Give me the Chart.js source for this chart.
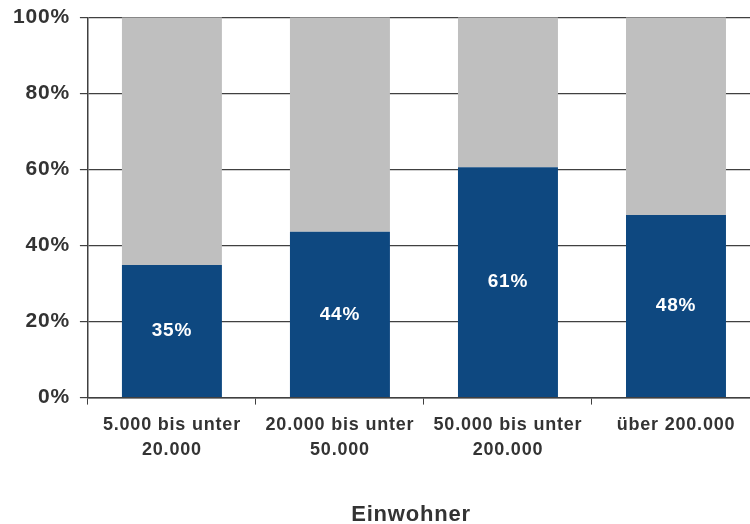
<!DOCTYPE html>
<html>
<head>
<meta charset="utf-8">
<script src="https://cdn.jsdelivr.net/npm/chart.js@4"></script>
<style>
    html, body { margin: 0; padding: 0; background: #fff; overflow: hidden; }
    #wrap { width: 762px; height: 524px; }
</style>
</head>
<body>
<div id="wrap"><canvas id="chart"></canvas></div>
<script>
// Chart data
const categories = [
    ['5.000 bis unter', '20.000'],
    ['20.000 bis unter', '50.000'],
    ['50.000 bis unter', '200.000'],
    ['über 200.000']
];
const shareValues = [34.9, 43.6, 60.6, 48.0];
const restValues = [65.1, 56.4, 39.4, 52.0];
const yTicks = [0, 20, 40, 60, 80, 100];
const axisTitle = 'Einwohner';

const textColor = '#333333';
const lineColor = '#404040';
const fontFamily = '"Liberation Sans", Arial, sans-serif';

// Slightly wider text like the original
const spacing = {
    id: 'spacing',
    beforeUpdate(chart) { chart.ctx.letterSpacing = '0.8px'; },
    beforeDraw(chart) { chart.ctx.letterSpacing = '0.8px'; }
};

// Labels inside the blue bars + axis title
const barLabels = {
    id: 'barLabels',
    afterDatasetsDraw(chart) {
        const ctx = chart.ctx;
        const meta = chart.getDatasetMeta(0);
        ctx.save();
        ctx.fillStyle = '#ffffff';
        ctx.font = 'bold 19px ' + fontFamily;
        ctx.textAlign = 'center';
        ctx.textBaseline = 'middle';
        meta.data.forEach((bar, i) => {
            const y = (bar.y + bar.base) / 2;
            ctx.fillText(Math.round(shareValues[i]) + '%', bar.x, y);
        });
        ctx.restore();
    },
    afterDraw(chart) {
        const ctx = chart.ctx;
        ctx.save();
        ctx.fillStyle = textColor;
        ctx.font = 'bold 22px ' + fontFamily;
        ctx.textAlign = 'center';
        ctx.textBaseline = 'alphabetic';
        ctx.fillText(axisTitle, 411, 521);
        ctx.restore();
    }
};

const chart = new Chart(document.getElementById('chart'), {
    type: 'bar',
    data: {
        labels: categories,
        datasets: [{
            data: shareValues,
            backgroundColor: '#0E4880'
        }, {
            data: restValues,
            backgroundColor: '#BFBFBF'
        }]
    },
    options: {
        responsive: true,
        maintainAspectRatio: false,
        animation: false,
        layout: {
            padding: { top: 0, left: 3, right: 2, bottom: 53 }
        },
        datasets: {
            bar: {
                barPercentage: 0.595,
                categoryPercentage: 1
            }
        },
        scales: {
            x: {
                stacked: true,
                border: { color: lineColor, width: 1.5 },
                grid: {
                    offset: true,
                    drawOnChartArea: false,
                    color: lineColor,
                    tickLength: 7
                },
                ticks: {
                    color: textColor,
                    padding: 8,
                    maxRotation: 0,
                    font: { family: fontFamily, size: 18, weight: 'bold', lineHeight: 1.4 }
                }
            },
            y: {
                stacked: true,
                min: 0,
                max: 100,
                afterBuildTicks: (axis) => {
                    axis.ticks = yTicks.map(v => ({ value: v }));
                },
                border: { color: lineColor, width: 1.5 },
                grid: {
                    color: lineColor,
                    lineWidth: 1.2,
                    tickLength: 8
                },
                ticks: {
                    color: textColor,
                    padding: 10,
                    font: { family: fontFamily, size: 21, weight: 'bold', lineHeight: 0.7 },
                    callback: function(value) {
                        return value + '%';
                    }
                }
            }
        },
        plugins: {
            legend: { display: false },
            tooltip: { enabled: false }
        }
    },
    plugins: [spacing, barLabels]
});
</script>
</body>
</html>
